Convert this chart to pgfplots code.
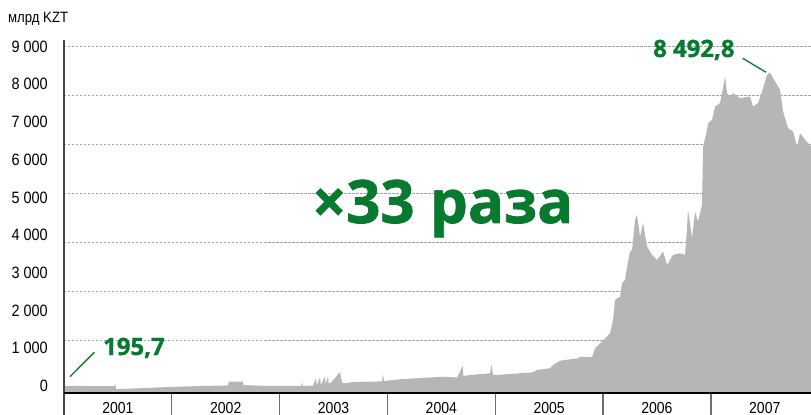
\documentclass[border=0pt]{standalone}
\usepackage{fontspec}
\setmainfont{Liberation Sans}[FakeStretch=0.88]
\newfontfamily\greenfont{Open Sans}[BoldFeatures={FakeBold=1.2}]
\usepackage{pgfplots}
\pgfplotsset{compat=1.18}
\definecolor{areagray}{RGB}{181,182,181}
\definecolor{kzgreen}{RGB}{8,122,48}
\definecolor{gridgray}{RGB}{165,165,165}
\definecolor{tickgray}{RGB}{110,110,110}
\definecolor{axisdark}{RGB}{70,70,70}

\begin{document}
\begin{tikzpicture}
% x = years since start of 2001
\begin{axis}[
    scale only axis,
    width=747bp, height=347bp,
    xmin=0, xmax=6.929,
    ymin=0, ymax=9200,
    axis line style={draw=none},
    clip=false,
    major tick length=0,
    xtick={0.5,1.5,2.5,3.5,4.5,5.5,6.5},
    xticklabels={2001,2002,2003,2004,2005,2006,2007},
    ytick={0,1000,2000,3000,4000,5000,6000,7000,8000,9000},
    yticklabels={0,1 000,2 000,3 000,4 000,5 000,6 000,7 000,8 000,9 000},
    x tick label style={anchor=base, inner sep=0, yshift=-20bp, font=\fontsize{16}{16}\selectfont},
    y tick label style={anchor=east, inner sep=0, xshift=-16bp, yshift=7bp, font=\fontsize{16.5}{16.5}\selectfont},
    extra y ticks={1405,2704,4003,5302,6601,7900,9200},
    extra y tick labels={},
    extra y tick style={grid=major, major grid style={gridgray, dash pattern=on 2.5bp off 1.5bp, line width=0.8bp}},
]
\addplot[fill=areagray, draw=none] coordinates {
(0.000,190) (0.473,180) (0.476,255) (0.482,100) (0.891,150)
(1.262,185) (1.521,200) (1.530,300) (1.660,300) (1.665,212)
(1.846,190) (2.200,190) (2.208,292) (2.215,190) (2.310,195)
(2.338,398) (2.345,205) (2.375,410) (2.382,215) (2.421,430)
(2.428,235) (2.449,451) (2.456,245) (2.486,307) (2.560,557)
(2.580,266) (2.607,258) (2.681,292) (2.950,307) (2.959,504)
(2.968,317) (3.117,363) (3.516,433) (3.646,409) (3.698,716)
(3.705,450) (3.766,478) (3.952,523) (3.965,762) (3.980,478)
(4.017,478) (4.351,549) (4.388,611) (4.508,655) (4.536,742)
(4.601,857) (4.768,920) (4.787,963) (4.898,947) (4.926,1186)
(4.972,1318) (5.065,1584) (5.093,1937) (5.111,2467) (5.158,2555)
(5.176,2911) (5.204,2998) (5.223,3350) (5.250,3748) (5.269,3793)
(5.297,4590) (5.315,4722) (5.343,4146) (5.371,4502) (5.408,3881)
(5.455,3661) (5.501,3528) (5.557,3748) (5.594,3395) (5.649,3661)
(5.714,3705) (5.761,3661) (5.779,4369) (5.788,4855) (5.826,4104)
(5.853,4810) (5.881,4545) (5.918,4988) (5.928,6534) (5.965,6977)
(5.974,7155) (6.011,7243) (6.039,7596) (6.085,7685) (6.104,7950)
(6.132,8391) (6.150,7950) (6.178,7861) (6.206,7950) (6.271,7818)
(6.364,7861) (6.391,7596) (6.438,7685) (6.475,7993) (6.521,8436)
(6.549,8492.8) (6.596,8258) (6.642,8038) (6.670,7463) (6.716,7022)
(6.763,6933) (6.800,6534) (6.827,6889) (6.874,6712) (6.929,6534)
} \closedcycle;
% year separators and axis lines
\draw[tickgray, line width=1.3bp] (axis cs:1,0) -- ++(0,-22bp);
\draw[tickgray, line width=1.3bp] (axis cs:2,0) -- ++(0,-22bp);
\draw[tickgray, line width=1.3bp] (axis cs:3,0) -- ++(0,-22bp);
\draw[tickgray, line width=1.3bp] (axis cs:4,0) -- ++(0,-22bp);
\draw[tickgray, line width=1.3bp] (axis cs:5,0) -- ++(0,-22bp);
\draw[tickgray, line width=1.3bp] (axis cs:6,0) -- ++(0,-22bp);
\draw[axisdark, line width=1.4bp] (rel axis cs:0,0) ++(0,-22bp) -- ++(0,375bp);
\draw[black, line width=1.5bp] (rel axis cs:0,0) -- (rel axis cs:1,0);
\end{axis}
\node[anchor=base west, inner sep=0, font=\fontsize{15}{15}\selectfont] at (-56bp,370bp) {млрд KZT};
\draw[kzgreen, line width=1.3bp] (6bp,16.3bp) -- (30.3bp,40.7bp);
\draw[kzgreen, line width=1.3bp] (678.7bp,334.7bp) -- (702bp,320.7bp);
\node[anchor=base west, inner sep=0, text=kzgreen, font=\greenfont\bfseries\fontsize{24}{24}\selectfont] at (39bp,38bp) {195,7};
\node[anchor=base west, inner sep=0, text=kzgreen, font=\greenfont\bfseries\fontsize{24}{24}\selectfont] at (589bp,336bp) {8 492,8};
\node[anchor=base west, inner sep=0, text=kzgreen, font=\greenfont\bfseries\fontsize{60}{60}\selectfont] at (248bp,170bp) {×33 раза};
\pgfresetboundingbox
\path[use as bounding box] (-64bp,-22bp) rectangle (747bp,393bp);
\end{tikzpicture}
\end{document}
